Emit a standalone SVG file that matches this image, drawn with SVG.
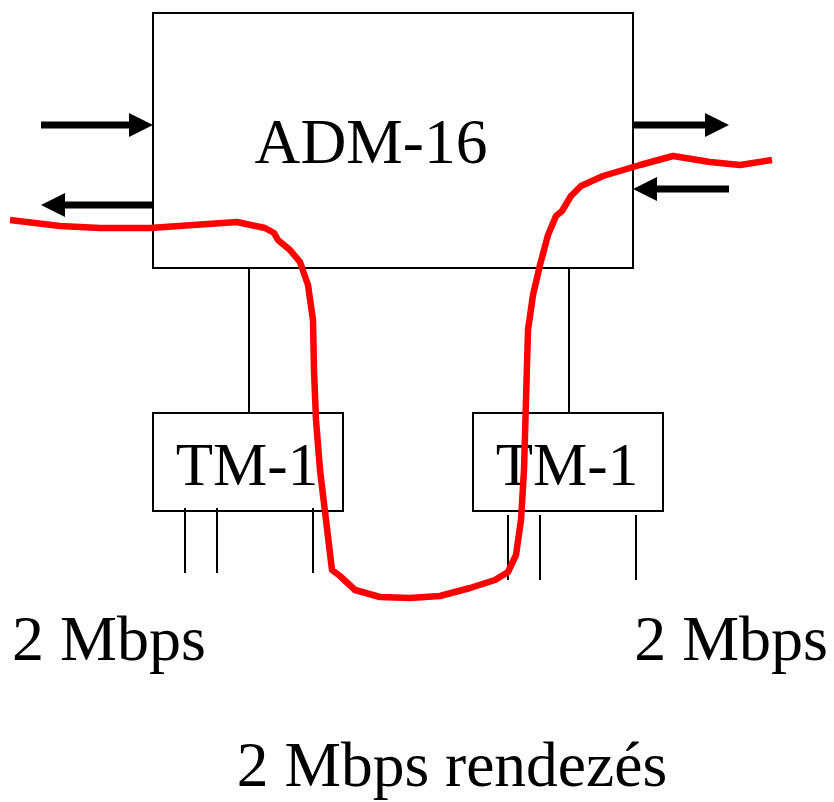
<svg xmlns="http://www.w3.org/2000/svg" width="834" height="802" viewBox="0 0 834 802">
<style>
.box{fill:#fff;stroke:#000;stroke-width:2}
.ln{stroke:#000;stroke-width:2;fill:none}
.ar{stroke:#000;stroke-width:7;fill:none}
.hd{fill:#000}
.t{font-family:"Liberation Serif","Times New Roman",serif;fill:#000}
</style>
<rect width="834" height="802" fill="#fff"/>
<g id="adm16">
<rect class="box" x="153" y="13" width="480" height="255"/>
<text class="t" x="371" y="163" font-size="63.5" text-anchor="middle">ADM-16</text>
</g>
<g id="tm1-left">
<rect class="box" x="153" y="413" width="190" height="98"/>
<text class="t" x="247" y="485" font-size="61" text-anchor="middle">TM-1</text>
</g>
<g id="tm1-right">
<rect class="box" x="473" y="413" width="190" height="98"/>
<text class="t" x="567" y="485" font-size="61" text-anchor="middle">TM-1</text>
</g>
<g id="connectors">
<line class="ln" x1="249" y1="268" x2="249" y2="413"/>
<line class="ln" x1="569" y1="268" x2="569" y2="413"/>
<line class="ln" x1="185" y1="508" x2="185" y2="573"/>
<line class="ln" x1="217" y1="508" x2="217" y2="573"/>
<line class="ln" x1="313" y1="508" x2="313" y2="573"/>
<line class="ln" x1="508" y1="515" x2="508" y2="580"/>
<line class="ln" x1="540" y1="515" x2="540" y2="580"/>
<line class="ln" x1="636" y1="515" x2="636" y2="580"/>
<line class="ar" x1="41" y1="125" x2="131" y2="125"/>
<polygon class="hd" points="129,113 153,125 129,137"/>
<line class="ar" x1="153" y1="205" x2="63" y2="205"/>
<polygon class="hd" points="65,193 41,205 65,217"/>
<line class="ar" x1="633" y1="125" x2="707" y2="125"/>
<polygon class="hd" points="705,113 729,125 705,137"/>
<line class="ar" x1="729" y1="189" x2="655" y2="189"/>
<polygon class="hd" points="657,177 633,189 657,201"/>
</g>
<g id="path">
<polyline fill="none" stroke="#ff0000" stroke-width="6.5" stroke-linejoin="round" points="10,220 60,226 100,228 150,228 237,222 265,228 274,233 278,240 290,250 300,262 308,285 313,320 314,370 316,420 320,470 326,520 332,570 340,576 355,590 380,597 410,598 440,596 470,588 495,580 508,572 516,555 521,520 524,470 526,400 528,330 533,295 540,265 548,235 556,216 562,211 571,196 581,186 603,176 640,165 673,156 710,162 740,165 772,160"/>
</g>
<g id="labels">
<text class="t" x="12" y="660" font-size="64">2 Mbps</text>
<text class="t" x="828" y="660" font-size="64" text-anchor="end">2 Mbps</text>
<text class="t" x="452" y="786" font-size="63.5" text-anchor="middle">2 Mbps rendezés</text>
</g>
</svg>
